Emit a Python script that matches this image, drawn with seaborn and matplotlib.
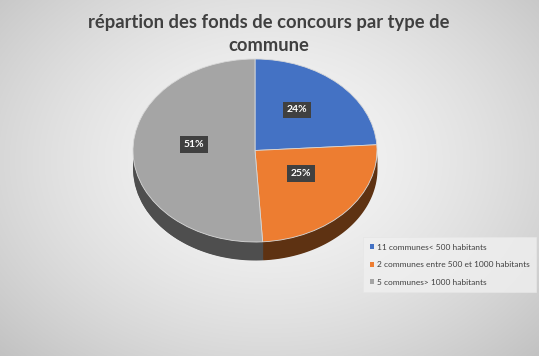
import numpy as np
import matplotlib
matplotlib.use("Agg")
import matplotlib.pyplot as plt
import seaborn as sns
from matplotlib.patches import Patch

categories = ["11 communes< 500 habitants",
              "2 communes entre 500 et 1000 habitants",
              "5 communes> 1000 habitants"]
values = [24, 25, 51]
title = "répartion des fonds de concours par type de\ncommune"

top_colors = ["#4472C4", "#ED7D31", "#A5A5A5"]
side_colors = ["#2B4A80", "#5E3212", "#4E4E4E"]

sns.set_theme(style="white")
plt.rcParams['font.family'] = ['Lato', 'DejaVu Sans']

W, H = 539, 356
fig = plt.figure(figsize=(W / 100, H / 100), dpi=100)

# background radial gradient
bg = fig.add_axes([0, 0, 1, 1], zorder=-10)
yy, xx = np.mgrid[0:H, 0:W]
r = np.sqrt(((xx - W * 0.5) / (W * 0.62)) ** 2 + ((yy - H * 0.45) / (H * 0.7)) ** 2)
g = np.clip(0.965 - 0.17 * r ** 1.6, 0, 1)
bg.imshow(np.dstack([g, g, g]), aspect="auto", extent=[0, 1, 0, 1])
bg.set_axis_off()

# pie axes: ellipse rx=122px, ry=91.5px, top at y=59px, center x=255px
cx, rx, top, ry = 255, 122, 59, 91.5
d = 18 / ry
ylo = -1.45
ax_h = (1 - ylo) * ry
ax = fig.add_axes([(cx - rx) / W, (H - (top + ax_h)) / H, 2 * rx / W, ax_h / H])

fr = np.array(values, dtype=float) / sum(values)
bounds = 90 - 360 * np.concatenate([[0], np.cumsum(fr)])  # clockwise from top

# bottom (shifted) pie
ax.pie(values, colors=side_colors, startangle=90, counterclock=False,
       center=(0, -d), radius=1, wedgeprops=dict(linewidth=0))
# side band for lower half
for i in range(len(values)):
    a0, a1 = bounds[i + 1], bounds[i]
    th = np.linspace(np.radians(a0), np.radians(a1), 200)
    th = th[np.sin(th) <= 0.0]
    if th.size < 2:
        continue
    xs = np.cos(th)
    ys = np.sin(th)
    order = np.argsort(xs)
    ax.fill_between(xs[order], ys[order], ys[order] - d, color=side_colors[i], lw=0)
# top pie
wedges, _, autot = ax.pie(values, colors=top_colors, startangle=90, counterclock=False,
                          radius=1, autopct=lambda p: f"{p:.0f}%", pctdistance=0.5,
                          wedgeprops=dict(linewidth=0.6, edgecolor="#d9d9d9"),
                          textprops=dict(color="white", fontsize=7.5, fontweight="bold"))
for t in autot:
    x, y = t.get_position()
    t.set_position((x, y + 0.08))
    t.set_bbox(dict(boxstyle="square,pad=0.35", facecolor="#404040", edgecolor="none"))
ax.set_aspect("auto")
ax.set_xlim(-1, 1)
ax.set_ylim(ylo, 1)
ax.set_axis_off()

fig.text(269 / W, 1 - 34 / H, title, ha="center", va="center", fontsize=13.2,
         fontweight="bold", color="#404040", linespacing=1.45)

handles = [Patch(facecolor=c, edgecolor="none") for c in top_colors]
leg = fig.legend(handles, categories, loc="upper left",
                 bbox_to_anchor=(359 / W, 1 - 233 / H), fontsize=6,
                 frameon=True, fancybox=False, handlelength=0.55, handleheight=0.55,
                 handletextpad=0.25, labelspacing=1.25, borderpad=0.8,
                 labelcolor="#404040")
leg.get_frame().set_facecolor("#f0f0f0")
leg.get_frame().set_edgecolor("#e6e6e6")
leg.get_frame().set_linewidth(0.6)

fig.savefig("out.png", dpi=100)
